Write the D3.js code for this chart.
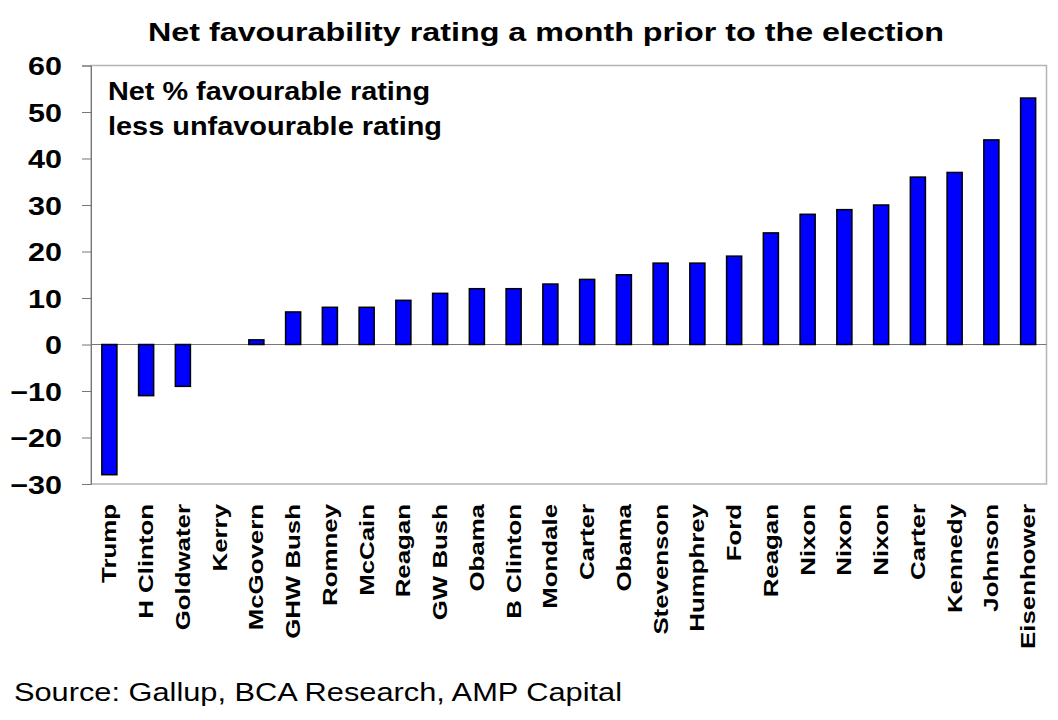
<!DOCTYPE html>
<html>
<head>
<meta charset="utf-8">
<script src="https://cdn.jsdelivr.net/npm/d3@7"></script>
<style>
  html, body { margin: 0; padding: 0; background: #fff; }
  svg { display: block; font-family: "Liberation Sans", Arial, sans-serif; }
</style>
</head>
<body>
<svg id="chart" width="1058" height="720"></svg>
<script>
const candidates = ['Trump', 'H Clinton', 'Goldwater', 'Kerry', 'McGovern', 'GHW Bush', 'Romney',
  'McCain', 'Reagan', 'GW Bush', 'Obama', 'B Clinton', 'Mondale', 'Carter', 'Obama', 'Stevenson',
  'Humphrey', 'Ford', 'Reagan', 'Nixon', 'Nixon', 'Nixon', 'Carter', 'Kennedy', 'Johnson', 'Eisenhower'];
const netRating = [-28, -11, -9, 0, 1, 7, 8, 8, 9.5, 11, 12, 12, 13, 14, 15, 17.5,
  17.5, 19, 24, 28, 29, 30, 36, 37, 44, 53];
const yTicks = [-30, -20, -10, 0, 10, 20, 30, 40, 50, 60];

const titleText = 'Net favourability rating a month prior to the election';
const noteLines = ['Net % favourable rating', 'less unfavourable rating'];
const sourceText = 'Source: Gallup, BCA Research, AMP Capital';

const svg = d3.select('#chart');
const plot = { left: 91, right: 1046.5, top: 65.5, bottom: 484 };

// The reference text is set wider than Liberation Sans, so stretch each
// string along its reading direction to match.
function widen(sel, k) {
  sel.each(function() {
    const len = this.getComputedTextLength();
    d3.select(this).attr('textLength', len * k).attr('lengthAdjust', 'spacingAndGlyphs');
  });
}
function fitTo(sel, width) {
  sel.attr('textLength', width).attr('lengthAdjust', 'spacingAndGlyphs');
}

// index-based band so repeated names (Obama, Nixon...) each get a slot
const x = d3.scaleBand()
  .domain(d3.range(candidates.length))
  .range([plot.left, plot.right]);
const y = d3.scaleLinear().domain([-30, 60]).range([plot.bottom, plot.top]);

const barW = x.bandwidth() * 0.41;

// plot frame (top, right, bottom in light grey)
svg.append('rect')
  .attr('x', plot.left).attr('y', plot.top)
  .attr('width', plot.right - plot.left).attr('height', plot.bottom - plot.top)
  .attr('fill', 'none').attr('stroke', '#b4b4b4').attr('stroke-width', 1.5);

// y axis
const yAxis = svg.append('g')
  .attr('transform', `translate(${plot.left},0)`)
  .call(d3.axisLeft(y).tickValues(yTicks).tickSize(9).tickPadding(20));
yAxis.select('.domain').attr('stroke', '#777').attr('stroke-width', 1);
yAxis.selectAll('.tick line').attr('stroke', '#777');
yAxis.selectAll('.tick text')
  .attr('font-family', '"Liberation Sans", Arial, sans-serif')
  .attr('font-size', 25).attr('font-weight', 'bold').attr('fill', '#000')
  .attr('dy', '0.36em')
  .call(widen, 1.22);

// zero line
svg.append('line')
  .attr('x1', plot.left).attr('x2', plot.right)
  .attr('y1', y(0)).attr('y2', y(0))
  .attr('stroke', '#777').attr('stroke-width', 1);

// bars
svg.append('g')
  .selectAll('rect')
  .data(netRating)
  .join('rect')
    .attr('x', (d, i) => x(i) + (x.bandwidth() - barW) / 2)
    .attr('y', d => y(Math.max(0, d)))
    .attr('width', barW)
    .attr('height', d => Math.abs(y(d) - y(0)))
    .attr('fill', '#0000ff')
    .attr('stroke', '#000')
    .attr('stroke-width', 1.5);

// category labels, rotated
svg.append('g')
  .selectAll('text')
  .data(candidates)
  .join('text')
    .attr('transform', (d, i) => `translate(${x(i) + x.bandwidth() / 2 + 7},504) rotate(-90)`)
    .attr('text-anchor', 'end')
    .attr('font-size', 21).attr('font-weight', 'bold')
    .text(d => d)
    .call(widen, 1.23);

svg.append('text')
  .attr('x', 546).attr('y', 41)
  .attr('text-anchor', 'middle')
  .attr('font-size', 25).attr('font-weight', 'bold')
  .text(titleText)
  .call(fitTo, 796);

const noteWidths = [322, 334];
svg.append('g')
  .selectAll('text')
  .data(noteLines)
  .join('text')
    .attr('x', 108).attr('y', (d, i) => 100 + i * 35)
    .attr('font-size', 25).attr('font-weight', 'bold')
    .text(d => d)
    .each(function(d, i) { fitTo(d3.select(this), noteWidths[i]); });

svg.append('text')
  .attr('x', 14).attr('y', 701)
  .attr('font-size', 25)
  .text(sourceText)
  .call(fitTo, 608);
</script>
</body>
</html>
